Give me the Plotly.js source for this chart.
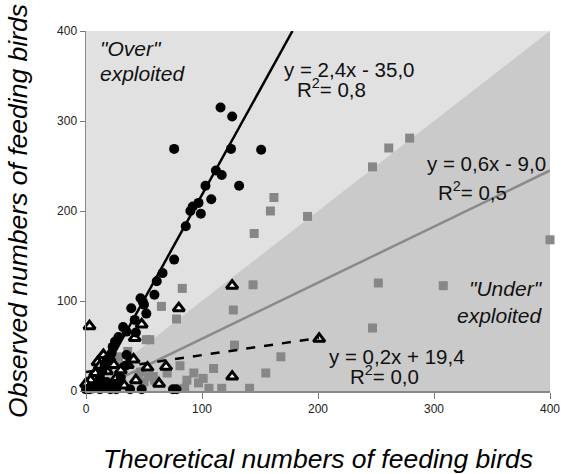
<!DOCTYPE html>
<html>
<head>
<meta charset="utf-8">
<script src="https://cdn.plot.ly/plotly-3.0.1.min.js"></script>
<style>html,body{margin:0;padding:0;background:#fff}#chart{width:561px;height:474px}</style>
</head>
<body>
<div id="chart"></div>
<script>
// "Over" exploited group (filled circles)
const circX = [116,126,76,125,151,112,117,132,103,108,97,92,90,99,86,76,66,61,59,47,49,50,39,52,42,32,35,43,28,25,23,22,35,18,16,14,12,10,7,3,0,12,21,26,38,48,75,78,30,26,34,18];
const circY = [315,305,269,269,268,245,240,228,228,213,209,205,200,197,183,146,131,122,107,103,99,96,92,86,79,71,66,65,60,55,49,42,40,35,28,22,15,9,5,2,2,2,2,2,2,2,2,2,15,8,28,10];
// "Under" exploited group (grey squares)
const sqX = [162,159,191,145,144,83,65,127,279,261,247,400,252,308,247,168,78,55,52,128,81,110,155,93,101,87,97,85,106,117,141,58,70,47,54,59,36,28,30,50,45];
const sqY = [215,200,194,175,118,114,94,90,281,270,249,168,120,117,70,38,80,57,57,51,28,25,20,20,14,12,9,3,3,3,3,16,20,21,16,12,44,38,28,10,16];
// third group (open triangles)
const triX = [3,126,80,42,48,41,53,69,63,126,201,43,10,15,20,24,36,30,4,0,8,14,26,2,20,33,12,18];
const triY = [72,117,92,59,74,35,26,27,8,16,58,12,32,40,37,29,29,23,12,8,20,10,14,2,4,6,28,22];
// fitted lines, end points as drawn
const fitCircX = [6.5,178], fitCircY = [0,400];
const fitSqX = [7,400], fitSqY = [0,245];
const fitTriX = [0,201], fitTriY = [21,59];
// tick values
const tickVals = [0,100,200,300,400];

const F = 'Liberation Sans, Arial, sans-serif';

const traces = [
  {x: sqX, y: sqY, type:'scatter', mode:'markers',
   marker:{symbol:'square', size:9, color:'#878787'}, cliponaxis:false},
  {x: fitSqX, y: fitSqY, type:'scatter', mode:'lines', line:{color:'#8a8a8a', width:2.5}},
  {x: triX, y: triY, type:'scatter', mode:'markers',
   marker:{symbol:'triangle-up', size:10, color:'#ffffff', line:{color:'#000', width:3}}, cliponaxis:false},
  {x: circX, y: circY, type:'scatter', mode:'markers',
   marker:{symbol:'circle', size:10, color:'#000'}, cliponaxis:false},
  {x: fitCircX, y: fitCircY, type:'scatter', mode:'lines', line:{color:'#000', width:2.5}},
  {x: fitTriX, y: fitTriY, type:'scatter', mode:'lines', line:{color:'#000', width:2.5, dash:'dash'}}
];

const ann = (x,y,text,xa,size,italic) => ({x:x, y:y, xref:'x', yref:'y', text:text, showarrow:false,
  xanchor:xa, yanchor:'middle', font:{family:F, size:size, color:'#111', style: italic?'italic':'normal'}});

const layout = {
  width:561, height:474,
  margin:{l:86, r:11, t:31, b:83},
  paper_bgcolor:'#ffffff',
  plot_bgcolor:'#e1e1e1',
  showlegend:false,
  xaxis:{range:[0,400], tickvals:tickVals, ticks:'outside', ticklen:6, tickcolor:'#777',
    showline:true, linecolor:'#888', linewidth:1.5, showgrid:false, zeroline:false,
    tickfont:{family:F, size:12, color:'#222'},
    title:{text:'Theoretical numbers of feeding birds', standoff:34, font:{family:F, size:26.5, color:'#000', style:'italic'}}},
  yaxis:{range:[0,400], tickvals:tickVals, ticks:'outside', ticklen:5, tickcolor:'#777',
    showline:true, linecolor:'#888', linewidth:1.5, showgrid:false, zeroline:false,
    tickfont:{family:F, size:12, color:'#222'},
    title:{text:'Observed numbers of feeding birds', standoff:22, font:{family:F, size:26.5, color:'#000', style:'italic'}}},
  shapes:[
    {type:'path', xref:'x', yref:'y', path:'M 0 0 L 400 400 L 400 0 Z', fillcolor:'#cacaca', line:{width:0}, layer:'below'}
  ],
  annotations:[
    ann(10,381,'"Over"','left',21,true),
    ann(10,353,'exploited','left',21,true),
    ann(169,357,'y = 2,4x - 35,0','left',20.5,false),
    ann(180,337,'R<sup>2</sup>= 0,8','left',20.5,false),
    ann(398,253,'y = 0,6x - 9,0','right',20.5,false),
    ann(302,222,'R<sup>2</sup>= 0,5','left',20.5,false),
    ann(396,114,'"Under"','right',21,true),
    ann(395,84,'exploited','right',21,true),
    ann(208,38,'y = 0,2x + 19,4','left',20.5,false),
    ann(226,18,'R<sup>2</sup>= 0,0','left',20.5,false)
  ]
};

Plotly.newPlot('chart', traces, layout, {displayModeBar:false, staticPlot:true});
</script>
</body>
</html>
